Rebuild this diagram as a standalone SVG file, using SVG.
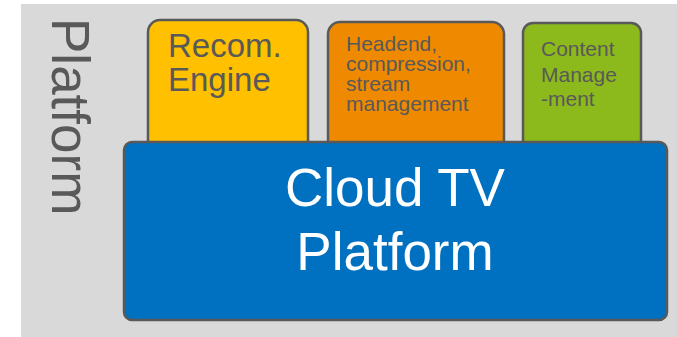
<svg xmlns="http://www.w3.org/2000/svg" width="677" height="337" viewBox="0 0 677 337">
<style>
.box{stroke:#595959;stroke-width:2.5}
.t{font-family:"Liberation Sans",Arial,sans-serif;fill:#595959}
.w{font-family:"Liberation Sans",Arial,sans-serif;fill:#ffffff}
</style>
<rect x="21" y="4" width="656" height="333" fill="#d9d9d9"/>
<g id="platform-label">
<text class="t" font-size="53" transform="translate(52,18) rotate(90)">Platform</text>
</g>
<g id="recom">
<rect class="box" x="148" y="20" width="160" height="150" rx="12" fill="#ffc000"/>
<text class="t" font-size="33"><tspan x="168" y="57">Recom.</tspan><tspan x="168" y="91">Engine</tspan></text>
</g>
<g id="headend">
<rect class="box" x="328" y="22" width="176" height="148" rx="12" fill="#ef8a00"/>
<text class="t" font-size="21"><tspan x="346" y="51">Headend,</tspan><tspan x="346" y="71">compression,</tspan><tspan x="346" y="91">stream</tspan><tspan x="346" y="111">management</tspan></text>
</g>
<g id="content">
<rect class="box" x="523" y="23" width="118" height="147" rx="10" fill="#8cb91b"/>
<text class="t" font-size="21"><tspan x="541" y="56">Content</tspan><tspan x="541" y="82">Manage</tspan><tspan x="541" y="106">-ment</tspan></text>
</g>
<g id="cloud">
<rect class="box" x="124" y="142" width="543" height="178" rx="8" fill="#0070c0"/>
<text class="w" font-size="53" text-anchor="middle"><tspan x="395" y="206">Cloud TV</tspan><tspan x="395" y="270">Platform</tspan></text>
</g>
<g id="connectors"/>
</svg>
